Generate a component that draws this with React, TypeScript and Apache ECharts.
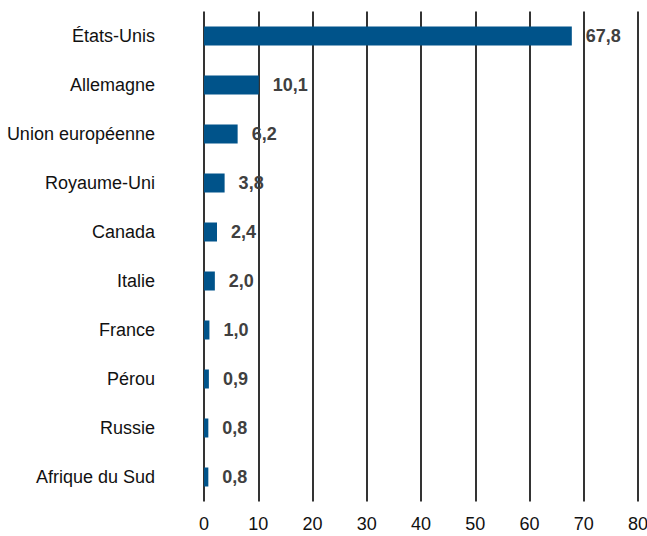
import React, { useEffect, useRef } from "react";
import * as echarts from "echarts";

const categories = [
  "États-Unis",
  "Allemagne",
  "Union européenne",
  "Royaume-Uni",
  "Canada",
  "Italie",
  "France",
  "Pérou",
  "Russie",
  "Afrique du Sud",
];
const values = [67.8, 10.1, 6.2, 3.8, 2.4, 2.0, 1.0, 0.9, 0.8, 0.8];
const xTicks = [0, 10, 20, 30, 40, 50, 60, 70, 80];

const FONT = "'Liberation Sans Narrow', 'Arial Narrow', 'Liberation Sans', Arial, sans-serif";

export default function App() {
  const ref = useRef<HTMLDivElement>(null);
  useEffect(() => {
    if (!ref.current) return;
    const chart = echarts.init(ref.current, undefined, { renderer: "svg" });
    chart.setOption({
      animation: false,
      grid: {
        left: 204,
        right: 9,
        top: 11.5,
        bottom: 34.5,
        containLabel: false,
        outerBoundsMode: "none",
      },
      xAxis: {
        type: "value",
        min: xTicks[0],
        max: xTicks[xTicks.length - 1],
        interval: 10,
        axisLine: { show: false },
        axisTick: { show: false },
        splitLine: { show: true, lineStyle: { color: "#000", width: 1.6 } },
        axisLabel: {
          color: "#111",
          fontFamily: FONT,
          fontSize: 18,
          margin: 13,
        },
      },
      yAxis: {
        type: "category",
        inverse: true,
        data: categories,
        axisLine: { show: false },
        axisTick: { show: false },
        axisLabel: {
          color: "#111",
          fontFamily: FONT,
          fontSize: 18,
          margin: 49,
        },
      },
      series: [
        {
          type: "bar",
          data: values,
          barWidth: 19,
          itemStyle: { color: "#00538a" },
          label: {
            show: true,
            position: "right",
            distance: 14,
            color: "#404040",
            fontFamily: FONT,
            fontWeight: "bold",
            fontSize: 18,
            formatter: (p: any) => p.value.toFixed(1).replace(".", ","),
          },
        },
      ],
    });
    return () => chart.dispose();
  }, []);
  return (
    <div
      ref={ref}
      style={{ position: "absolute", left: 0, top: 0, width: 647, height: 536 }}
    />
  );
}
